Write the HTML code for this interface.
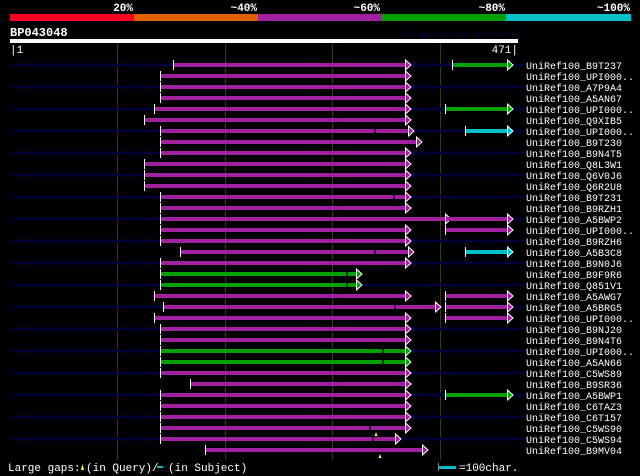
<!DOCTYPE html>
<html><head><meta charset="utf-8"><style>
html,body{margin:0;padding:0;background:#000;}
svg{display:block;}
text{font-family:"Liberation Mono","DejaVu Sans Mono",monospace;}
</style></head><body>
<svg width="640" height="476" viewBox="0 0 640 476" xmlns="http://www.w3.org/2000/svg">
<rect width="640" height="476" fill="#000"/>
<g font-size="11" font-weight="bold" fill="#fff" text-anchor="end">
<text x="133" y="11">20%</text><text x="257" y="11">~40%</text><text x="380" y="11">~60%</text><text x="505" y="11">~80%</text><text x="630" y="11">~100%</text>
</g>
<rect x="10" y="14" width="124" height="7" fill="#ff0022"/>
<rect x="134" y="14" width="124" height="7" fill="#e06000"/>
<rect x="258" y="14" width="124" height="7" fill="#a020a0"/>
<rect x="382" y="14" width="124" height="7" fill="#00a000"/>
<rect x="506" y="14" width="125" height="7" fill="#00c0c8"/>
<text x="10" y="36" font-size="12" font-weight="bold" fill="#fff">BP043048</text>
<text x="402" y="37" font-size="9" fill="#000040">AlignView.pm Beta rel.7</text>
<rect x="10" y="39" width="508" height="4" fill="#fff"/>
<text x="10" y="53" font-size="11" fill="#fff">|1</text>
<text x="518" y="53" font-size="11" fill="#fff" text-anchor="end">471|</text>
<g stroke="#3a3a10" stroke-width="1">
<line x1="117.5" y1="44" x2="117.5" y2="460"/><line x1="225.5" y1="44" x2="225.5" y2="460"/><line x1="332.5" y1="44" x2="332.5" y2="460"/><line x1="440.5" y1="44" x2="440.5" y2="460"/>
</g>
<g id="rows"></g>
<g font-size="11" fill="#fff">
<text x="8" y="471">Large gaps:</text>
<polygon points="81,470 84,470 82.5,464" fill="#ffff66"/>
<text x="86" y="471">(in Query)/</text>
<line x1="157" y1="467" x2="163" y2="467" stroke="#00c0c8" stroke-width="2"/>
<text x="168" y="471">(in Subject)</text>
<line x1="438.5" y1="463" x2="438.5" y2="471" stroke="#888"/>
<rect x="439" y="466" width="17" height="3" fill="#00c0c8"/>
<text x="459" y="471">=100char.</text>
</g>
</svg>
<script>
var rows=[
["B9T237",[[171,400,"m"],[446,500,"g"]]],
["UPI000..",[[158,400,"m"]]],
["A7P9A4",[[158,400,"m"]]],
["A5AN67",[[158,400,"m"]]],
["UPI000..",[[152,400,"m"],[439,500,"g"]]],
["Q9XIB5",[[142,400,"m"]]],
["UPI000..",[[158,403,"m",369],[459,500,"c"]]],
["B9T230",[[158,410,"m"]]],
["B9N4T5",[[158,400,"m"]]],
["Q8L3W1",[[142,400,"m"]]],
["Q6V0J6",[[142,400,"m"]]],
["Q6R2U8",[[142,400,"m"]]],
["B9T231",[[158,400,"m",388]]],
["B9RZH1",[[158,400,"m"]]],
["A5BWP2",[[158,439,"m"],[439,500,"m"]]],
["UPI000..",[[158,400,"m"],[439,500,"m"]]],
["B9RZH6",[[158,400,"m"]]],
["A5B3C8",[[178,403,"m",369],[459,500,"c"]]],
["B9N0J6",[[158,400,"m"]]],
["B9F9R6",[[158,351,"g",341]]],
["Q851V1",[[158,351,"g",341]]],
["A5AWG7",[[152,400,"m"],[439,500,"m"]]],
["A5BRG5",[[161,429,"m",389],[439,500,"m"]]],
["UPI000..",[[152,400,"m"],[439,500,"m"]]],
["B9NJ20",[[158,400,"m"]]],
["B9N4T6",[[158,400,"m"]]],
["UPI000..",[[158,400,"g",377]]],
["A5AN66",[[158,400,"g",377]]],
["C5WS89",[[158,400,"m"]]],
["B9SR36",[[187,400,"m"]]],
["A5BWP1",[[158,400,"m"],[439,500,"g"]]],
["C6TAZ3",[[158,400,"m"]]],
["C6T157",[[158,400,"m"]]],
["C5WS90",[[158,400,"m",364,371]]],
["C5WS94",[[158,390,"m",367]]],
["B9MV04",[[202,416,"m",null,375]]]
];
var col={m:"#a020a0",g:"#00a000",c:"#00c0c8"};
var k=1.0135;
function X(v){return Math.round(v*k);}
var s="";
rows.forEach(function(r,i){
 var y=65+i*11;
 if(i%2==0) s+='<rect x="10" y="'+(y-1.5)+'" width="514" height="3" fill="#000038"/>';
 r[1].forEach(function(b){
  var x0=X(b[0]),x1=X(b[1]),c=col[b[2]];
  s+='<rect x="'+x0+'" y="'+(y-2)+'" width="'+(x1-x0)+'" height="4" fill="'+c+'"/>';
  if(b[3]){var g=X(b[3]);s+='<rect x="'+g+'" y="'+(y-2)+'" width="2" height="4" fill="#000"/><rect x="'+g+'" y="'+(y-0.5)+'" width="2" height="1" fill="'+c+'"/>';}
  s+='<line x1="'+(x0+0.5)+'" y1="'+(y-5)+'" x2="'+(x0+0.5)+'" y2="'+(y+5)+'" stroke="#fff"/>';
  s+='<polygon points="'+(x1+0.5)+','+(y-5)+' '+(x1+6)+','+y+' '+(x1+0.5)+','+(y+5)+'" fill="'+c+'" stroke="#fff" stroke-width="1"/>';
  if(b[4]){var t=X(b[4]);s+='<polygon points="'+(t-1.5)+','+(y+8)+' '+(t+1.5)+','+(y+8)+' '+t+','+(y+4)+'" fill="#ffff66"/>';}
 });
 s+='<text x="526" y="'+(y+4)+'" font-size="10" fill="#fff">UniRef100_'+r[0]+'</text>';
});
document.getElementById("rows").innerHTML=s;
</script>
</body></html>
